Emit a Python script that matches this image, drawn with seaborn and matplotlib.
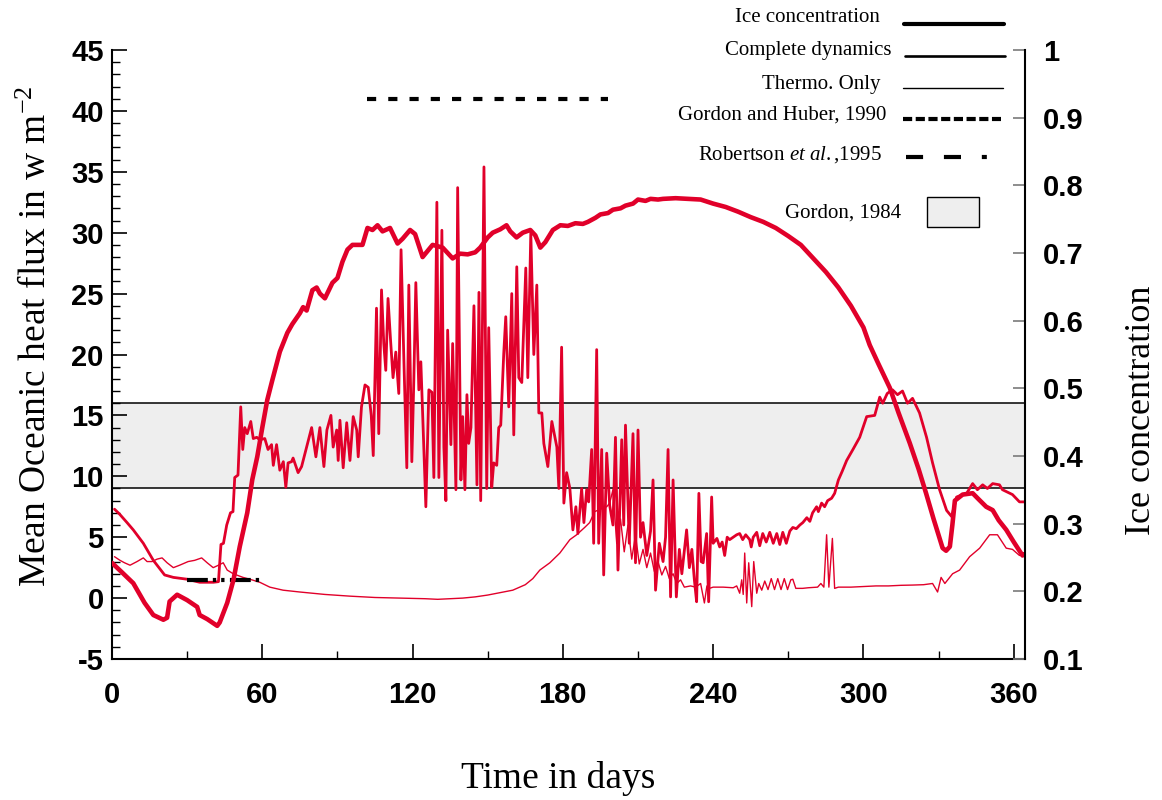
import matplotlib
matplotlib.use("Agg")
import matplotlib.pyplot as plt
import seaborn as sns
from matplotlib.lines import Line2D
from matplotlib.patches import Rectangle
from matplotlib.ticker import MultipleLocator

# ---------------- data ----------------
# Ice concentration (right axis)
ice_days = [0, 4, 8.5, 13, 16.5, 20.5, 22, 23, 26, 30, 34, 35, 38, 42, 43, 46, 48.5, 51, 54, 56,
            58, 60, 62, 64, 67, 70, 72, 75, 76.3, 77.7, 80, 81.7, 83, 85, 88, 90, 92, 94, 96, 100,
            102, 104, 106, 108, 111, 114, 116, 119, 121, 124, 126, 128, 132, 136, 139, 142, 145, 147, 150, 152,
            155, 157.5, 159, 161.5, 164, 167, 169, 171, 173, 176, 179, 182, 185, 188, 190, 193, 195, 198, 200, 203,
            205, 208, 210, 213, 215, 218, 220, 225, 230, 235, 240, 245, 250, 255, 260, 265, 270, 275, 280, 285,
            290, 295, 300, 302.5, 306, 310.5, 314, 318.5, 322, 325, 328, 331.6, 333, 334.5, 335.5, 336.5, 339.6, 343.6, 346, 349,
            351.6, 354, 357, 360, 363.5, 364.5]
ice_conc = [0.242, 0.228, 0.212, 0.183, 0.165, 0.158, 0.161, 0.185, 0.195, 0.187, 0.177, 0.165, 0.159, 0.149, 0.154, 0.183, 0.217, 0.266, 0.316, 0.365,
            0.399, 0.442, 0.483, 0.512, 0.554, 0.582, 0.595, 0.611, 0.620, 0.615, 0.645, 0.649, 0.640, 0.633, 0.656, 0.663, 0.687, 0.705, 0.712, 0.712,
            0.737, 0.734, 0.741, 0.732, 0.737, 0.714, 0.721, 0.734, 0.728, 0.694, 0.703, 0.712, 0.708, 0.692, 0.699, 0.698, 0.701, 0.708, 0.723, 0.730,
            0.735, 0.741, 0.732, 0.723, 0.730, 0.734, 0.726, 0.708, 0.716, 0.734, 0.741, 0.740, 0.744, 0.743, 0.746, 0.752, 0.757, 0.759, 0.764, 0.766,
            0.770, 0.773, 0.779, 0.777, 0.780, 0.779, 0.780, 0.781, 0.780, 0.779, 0.773, 0.768, 0.761, 0.753, 0.746, 0.737, 0.725, 0.712, 0.692, 0.672,
            0.649, 0.622, 0.590, 0.564, 0.536, 0.501, 0.464, 0.419, 0.381, 0.345, 0.307, 0.264, 0.260, 0.266, 0.298, 0.334, 0.343, 0.345, 0.336, 0.325,
            0.320, 0.305, 0.291, 0.273, 0.253, 0.255]

# Complete dynamics (left axis, W m-2)
cd_days = [1, 3, 6, 8.5, 12.5, 16.5, 21, 24.5, 30, 35, 40.5, 42.5, 43.5, 44.5, 45.8, 47.3, 48.3, 49, 50.3, 51.4,
           52.2, 53, 54, 55.4, 56.4, 57.8, 59, 61, 62.3, 63.7, 64.4, 65.7, 67, 68.4, 69.4, 70.3, 71.7, 72.3, 74.3, 75.7,
           77.7, 79.7, 81.4, 83, 84.6, 85.8, 87.4, 88.3, 89.7, 90.3, 91, 92.3, 93.7, 95, 96.3, 97.7, 98.3, 99.6, 101, 102.3,
           103.5, 104.3, 105.6, 106.5, 107.6, 108.5, 109.3, 110.2, 111.2, 112.2, 113.3, 114.5, 115.4, 116.6, 117.7, 118.5, 119.7, 120.5, 121.3, 122.5,
           123.3, 125.3, 126.5, 127.7, 128.5, 129.7, 130.5, 131.7, 132.5, 133.3, 134, 135.3, 136, 137.3, 138, 139.3, 140, 140.9, 141.7, 142.4,
           143.3, 144.5, 145.7, 146.5, 147.2, 148.5, 149.6, 150.4, 151.6, 152.4, 153.6, 154.4, 155.2, 156.4, 157.2, 158.4, 159.6, 160.4, 161.6, 162.4,
           163.6, 165.2, 166, 167.2, 168.4, 169.6, 170.4, 171.6, 172.4, 174, 175.6, 177.6, 178.4, 179.5, 180.4, 181.5, 182.8, 184, 185.2, 186,
           187.5, 188.4, 189.5, 190.3, 191.5, 192.3, 193.5, 194.3, 195.5, 196.3, 197.5, 198.7, 200, 201, 202, 203.5, 204.3, 205, 206.5, 208,
           209, 210, 211, 212, 213.5, 215, 216, 217, 218.5, 220, 221, 222, 223, 224, 225.3, 226.5, 227.5, 229.4, 230.5, 231.5,
           232.5, 233.4, 234.3, 235.2, 236, 237.4, 238.2, 239.4, 240, 241.5, 242.6, 243.6, 244.6, 245.6, 246.6, 248, 249.4, 250.6, 251.8, 253,
           254.6, 255.2, 256, 257.4, 258.6, 259.8, 261.2, 262.6, 264, 265.4, 266.6, 267.8, 269.2, 270.6, 271.8, 273.2, 274.6, 275.8, 277.4, 278.6,
           279.7, 281.3, 282, 283.3, 284.5, 285.7, 287.3, 288.5, 290, 291.5, 293.3, 295.8, 298.5, 301.3, 304.5, 306.5, 307.7, 309.5, 311.6, 313.6,
           315.6, 317.6, 319.6, 322.4, 325.2, 327.6, 330.4, 333.2, 335.2, 337.2, 341.2, 343.6, 345.5, 347.6, 349.5, 351.6, 354.3, 355.5, 359.5, 362.3,
           364.5]
cd_flux = [7.3, 6.9, 6.2, 5.6, 4.5, 3.1, 1.9, 1.7, 1.55, 1.3, 1.3, 1.35, 4.4, 4.5, 6.0, 7.0, 7.1, 9.9, 10.1, 15.7,
           12.2, 14.0, 13.5, 14.5, 13.1, 13.2, 13.0, 13.1, 12.2, 12.6, 10.9, 12.6, 10.5, 11.2, 9.1, 11.1, 11.2, 11.5, 10.3, 10.8,
           12.4, 14.0, 11.6, 14.0, 10.8, 13.8, 15.0, 12.4, 13.8, 11.3, 14.6, 10.7, 14.4, 11.3, 14.9, 13.8, 11.6, 15.7, 17.5, 17.3,
           15.0, 11.7, 23.8, 13.5, 25.3, 20.9, 18.7, 24.6, 21.2, 18.1, 20.2, 16.8, 28.6, 19.0, 10.7, 25.7, 11.2, 17.9, 25.9, 17.1,
           19.4, 7.5, 17.1, 16.9, 9.9, 32.5, 9.9, 30.2, 12.4, 8.0, 22.0, 12.6, 20.9, 8.9, 33.7, 9.7, 14.9, 8.9, 16.7, 12.7,
           14.0, 24.0, 9.3, 25.1, 8.0, 35.4, 9.0, 22.2, 9.1, 11.1, 10.9, 14.0, 14.2, 20.1, 23.1, 15.7, 25.0, 13.4, 27.2, 18.1,
           17.7, 27.1, 18.1, 30.0, 20.0, 25.7, 15.2, 15.2, 12.7, 10.8, 14.5, 12.4, 9.0, 20.6, 7.8, 10.3, 9.0, 5.6, 7.5, 5.3,
           9.0, 6.2, 8.9, 7.9, 12.2, 4.5, 20.4, 4.5, 12.2, 1.9, 11.9, 7.6, 6.0, 13.2, 2.3, 13.0, 6.0, 14.2, 4.5, 13.5,
           2.9, 13.8, 5.0, 6.2, 3.5, 5.5, 9.7, 0.65, 4.5, 3.0, 5.0, 12.2, 0.1, 9.7, 0.1, 4.0, 2.0, 5.6, 2.5, 4.0,
           1.5, -0.3, 8.6, 3.0, 2.9, 5.3, -0.3, 8.3, 4.5, 4.9, 4.2, 4.6, 3.5, 5.0, 4.8, 5.0, 5.2, 5.3, 4.8, 5.2,
           4.8, 4.2, 5.0, 5.4, 4.3, 5.3, 4.6, 5.4, 4.5, 5.3, 4.4, 5.4, 4.5, 5.5, 5.8, 5.7, 6.0, 6.2, 6.6, 6.3,
           7.0, 7.5, 7.1, 7.8, 7.5, 8.0, 8.2, 8.6, 9.7, 10.4, 11.3, 12.2, 13.2, 14.9, 15.0, 16.5, 16.0, 16.8, 17.1, 16.7,
           17.0, 16.0, 16.4, 15.2, 13.2, 11.1, 8.9, 7.2, 6.7, 8.3, 8.6, 9.4, 8.9, 9.3, 9.0, 9.4, 9.3, 8.9, 8.5, 7.9,
           7.9]

# Thermodynamics only (left axis, W m-2)
th_days = [1, 3.2, 5, 7.2, 10, 12.5, 14, 16, 18, 20, 22, 24.5, 27, 30.4, 33, 35.8, 38, 40.4, 42.5, 44.4,
           46, 48.4, 52.3, 55, 59, 63, 68.3, 75, 85, 95, 105, 115, 125, 130, 135, 140, 145, 150, 155, 160,
           165, 168, 170.8, 174.8, 178.8, 182.8, 185.5, 188.7, 190.7, 192.7, 195, 197.5, 198.7, 200, 201.5, 203, 204.5, 206, 207.5, 209,
           210.5, 212, 213.5, 215, 216.5, 218, 219.5, 221, 222.5, 224, 225.5, 227, 228.5, 231, 233, 235, 236.5, 237.5, 238.5, 240,
           244, 248, 249.4, 250.6, 251.4, 252, 252.6, 253.4, 254.2, 255.4, 256.2, 257.4, 258.2, 259.4, 260.6, 261.9, 263.2, 264.5, 265.8, 267.1,
           268.4, 269.7, 271, 271.8, 273, 275.7, 278, 281.7, 283, 284.2, 285.3, 286.2, 287.6, 288.5, 290, 295, 300, 305, 310, 315,
           319.6, 324, 327.6, 329.6, 331, 332.5, 335.6, 338.4, 342.4, 346.4, 350.4, 353.5, 357, 359.5, 362.3, 364.5]
th_flux = [3.4, 3.1, 2.9, 2.7, 3.0, 3.3, 3.0, 3.0, 3.2, 3.3, 2.9, 2.5, 2.7, 3.0, 3.1, 3.3, 2.9, 2.5, 2.7, 2.9,
           2.3, 2.0, 1.7, 1.55, 1.3, 0.9, 0.65, 0.5, 0.3, 0.16, 0.05, 0.0, -0.05, -0.1, -0.05, 0.0, 0.1, 0.25, 0.45, 0.65,
           1.1, 1.6, 2.3, 2.9, 3.7, 4.8, 5.2, 5.8, 6.2, 7.1, 7.3, 7.5, 7.8, 8.9, 4.5, 6.5, 3.8, 6.0, 3.2, 5.2,
           2.8, 4.0, 2.5, 3.7, 2.2, 3.0, 1.9, 2.6, 1.6, 2.0, 1.2, 1.5, 0.9, 1.0, 0.9, 1.2, -0.4, 1.0, 0.8, 0.9,
           0.9, 0.85, 1.0, 0.4, 1.5, 0.3, 3.7, -0.4, 2.9, -0.7, 3.0, 0.4, 1.2, 0.65, 1.4, 0.7, 1.6, 0.7, 1.6, 0.7,
           1.6, 0.7, 1.5, 1.55, 0.8, 0.8, 0.85, 0.9, 1.2, 0.9, 5.2, 0.9, 4.9, 0.8, 0.9, 0.9, 0.95, 1.0, 1.0, 1.05,
           1.07, 1.1, 1.2, 0.5, 1.7, 1.2, 2.0, 2.3, 3.4, 4.1, 5.2, 5.2, 4.1, 4.0, 3.5, 3.6]

# Observations
gh_days, gh_flux = [102, 198], [41, 41]            # Gordon and Huber, 1990
rob_days, rob_flux = [30, 59], [1.5, 1.5]          # Robertson et al., 1995
gordon84_low, gordon84_high = 9, 16                # Gordon, 1984 range

# Axis ticks
x_ticks = [0, 60, 120, 180, 240, 300, 360]
left_ticks = [-5, 0, 5, 10, 15, 20, 25, 30, 35, 40, 45]
right_ticks = [0.1, 0.2, 0.3, 0.4, 0.5, 0.6, 0.7, 0.8, 0.9, 1.0]
right_tick_labels = ["0.1", "0.2", "0.3", "0.4", "0.5", "0.6", "0.7", "0.8", "0.9", "1"]

legend_labels = ["Ice concentration", "Complete dynamics", "Thermo. Only",
                 "Gordon and Huber, 1990", r"Robertson $\mathit{et\ al.}$,1995", "Gordon, 1984"]

# ---------------- styling ----------------
RED = "#e1002a"
sns.set_theme(style="white")
plt.rcParams["font.family"] = ["Liberation Serif", "DejaVu Serif"]
plt.rcParams["mathtext.fontset"] = "custom"
plt.rcParams["mathtext.rm"] = "Liberation Serif"
plt.rcParams["mathtext.it"] = "Liberation Serif:italic"
for key in ["axes.edgecolor", "text.color", "axes.labelcolor", "xtick.color", "ytick.color"]:
    plt.rcParams[key] = "black"

W, H = 1162, 800
fig = plt.figure(figsize=(W / 100, H / 100), dpi=100)
fig.patch.set_facecolor("white")
ax = fig.add_axes([112 / W, 1 - 659 / H, 913 / W, 609 / H])
ax.set_facecolor("white")
ax2 = ax.twinx()

# Gordon 1984 band
ax.axhspan(gordon84_low, gordon84_high, facecolor="#eeeeee", edgecolor="black", lw=1.1, zorder=0)

sns.lineplot(x=th_days, y=th_flux, ax=ax, color=RED, lw=1.0, estimator=None, sort=False, zorder=3)
sns.lineplot(x=cd_days, y=cd_flux, ax=ax, color=RED, lw=2.0, estimator=None, sort=False, zorder=4)
sns.lineplot(x=gh_days, y=gh_flux, ax=ax, color="black", lw=3.0, estimator=None,
             linestyle=(0, (2.2, 2.9)), zorder=5)
sns.lineplot(x=rob_days, y=rob_flux, ax=ax, color="black", lw=3.0, estimator=None,
             linestyle=(0, (5.0, 1.2, 0.8, 1.2, 0.8, 1.3)), zorder=5)
sns.lineplot(x=ice_days, y=ice_conc, ax=ax2, color=RED, lw=3.3, estimator=None, sort=False)

# axes limits / ticks
ax.set_xlim(0, 364.5)
ax.set_ylim(-5, 45)
ax2.set_ylim(0.1, 1.0)

tick_font = dict(fontfamily="Liberation Sans", fontweight="bold", fontsize=21, color="black")
ax.set_xticks(x_ticks)
ax.set_xticklabels([str(t) for t in x_ticks], **tick_font)
ax.set_yticks(left_ticks)
ax.set_yticklabels([str(t) for t in left_ticks], **tick_font)
ax.xaxis.set_minor_locator(MultipleLocator(30))
ax.yaxis.set_minor_locator(MultipleLocator(1))
ax2.set_yticks(right_ticks)
ax2.set_yticklabels(right_tick_labels, **tick_font)

ax.tick_params(axis="both", which="major", direction="in", length=11, width=1.2, color="black",
               top=False, right=False, bottom=True, left=True)
ax.tick_params(axis="both", which="minor", direction="in", length=5.5, width=1.0, color="black",
               top=False, right=False, bottom=True, left=True)
ax.tick_params(axis="y", which="major", pad=6)
ax.tick_params(axis="x", which="major", pad=16)
ax2.tick_params(axis="y", which="major", direction="in", length=8.5, width=1.2, color="#7a7a7a",
                left=False, right=True, pad=13)

for s in ["top", "right"]:
    ax.spines[s].set_visible(False)
for s in ["top", "left", "bottom"]:
    ax2.spines[s].set_visible(False)
for s in ["left", "bottom"]:
    ax.spines[s].set_linewidth(1.5)
    ax.spines[s].set_color("black")
ax2.spines["right"].set_linewidth(1.5)
ax2.spines["right"].set_color("black")

# axis labels
ax.set_ylabel("Mean Oceanic heat flux in w m$^{-2}$", fontsize=27)
ax.yaxis.set_label_coords((37 - 112) / 913, (659 - 336) / 609)
ax.yaxis.label.set_va("center")
ax.set_xlabel("Time in days", fontsize=27)
ax.xaxis.set_label_coords((558 - 112) / 913, (659 - 778) / 609)
ax.xaxis.label.set_va("center")
ax2.set_ylabel("Ice concentration", fontsize=26, rotation=90)
ax2.yaxis.set_label_coords((1142 - 112) / 913, (659 - 410) / 609)
ax2.yaxis.label.set_va("center")

# ---------------- legend (drawn at the top right) ----------------
def fx(px):
    return px / W

def fy(py):
    return 1 - py / H

leg_text = [(880, 18), (891, 50), (880, 85), (886, 115), (882, 155), (901, 213)]
for lab, (tx, ty) in zip(legend_labels, leg_text):
    fig.text(fx(tx), fy(ty), lab, ha="right", va="center", fontsize=15)

leg_lines = [
    ((904, 1004), 24, 3.0, "-"),
    ((905, 1005), 56, 1.9, "-"),
    ((903, 1003), 88, 1.0, "-"),
    ((903, 1001), 119, 3.0, (0, (2.2, 0.85))),
    ((906, 988), 157, 3.0, (0, (4.1, 5.0, 4.1, 5.0, 1.2, 5.0))),
]
for (x0, x1), yy, lw, ls in leg_lines:
    fig.add_artist(Line2D([fx(x0), fx(x1)], [fy(yy), fy(yy)], transform=fig.transFigure,
                          color="black", lw=lw, linestyle=ls))
fig.add_artist(Rectangle((fx(927), fy(227)), fx(979) - fx(927), fy(197) - fy(227),
                         transform=fig.transFigure, facecolor="#eeeeee", edgecolor="black", lw=1.0))

fig.savefig("out.png", dpi=100, facecolor="white")
